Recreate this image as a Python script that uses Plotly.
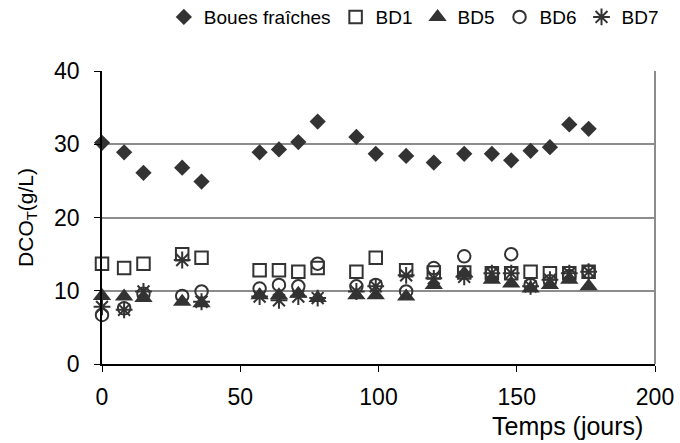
import plotly.graph_objects as go

# Sampling days
temps = [0, 8, 15, 29, 36, 57, 64, 71, 78, 92, 99, 110, 120, 131, 141, 148, 155, 162, 169, 176]

# Total COD (g/L) per sludge series
boues_fraiches = [30.2, 28.9, 26.1, 26.8, 24.9, 28.9, 29.3, 30.3, 33.1, 31.0,
                  28.7, 28.4, 27.5, 28.7, 28.7, 27.8, 29.1, 29.6, 32.7, 32.1]
bd1 = [13.7, 13.1, 13.7, 15.0, 14.5, 12.8, 12.8, 12.6, 13.1, 12.6,
       14.5, 12.8, 12.5, 12.5, 12.4, 12.4, 12.6, 12.4, 12.4, 12.6]
bd5 = [9.3, 9.2, 9.0, 8.5, 8.3, 9.4, 9.4, 9.6, 9.0, 9.4,
       9.4, 9.2, 10.8, 12.4, 11.5, 11.0, 10.3, 10.8, 11.5, 10.6]
bd6 = [6.7, 7.6, 9.6, 9.3, 9.9, 10.3, 10.8, 10.6, 13.7, 10.6,
       10.8, 9.9, 13.1, 14.7, 12.4, 15.0, 10.8, 11.3, 12.0, 12.6]
bd7 = [7.8, 7.4, 9.9, 14.2, 8.5, 9.2, 8.7, 9.2, 9.0, 9.9,
       10.6, 12.1, 11.7, 11.9, 12.4, 12.4, 10.6, 11.5, 12.4, 12.6]

x_ticks = [0, 50, 100, 150, 200]
y_ticks = [0, 10, 20, 30, 40]

INK = "#333333"
FONT = "Liberation Sans, Arial, sans-serif"

series = [
    ("Boues fraîches", boues_fraiches, dict(symbol="diamond", size=12.5, color=INK,
                                            line=dict(width=0))),
    ("BD1", bd1, dict(symbol="square-open", size=12.5, color=INK, line=dict(width=2, color=INK))),
    ("BD5", bd5, dict(symbol="triangle-up", size=16, color=INK, line=dict(width=0))),
    ("BD6", bd6, dict(symbol="circle-open", size=12.5, color=INK, line=dict(width=2, color=INK))),
    ("BD7", bd7, dict(symbol="asterisk-open", size=14, color=INK, line=dict(width=2, color=INK))),
]

fig = go.Figure()
for name, values, marker in series:
    fig.add_trace(go.Scatter(x=temps, y=values, mode="markers", name=name,
                             marker=marker, cliponaxis=False))

fig.update_layout(
    width=680, height=443,
    margin=dict(l=102, r=25, t=71, b=79, autoexpand=False),
    paper_bgcolor="white", plot_bgcolor="white",
    font=dict(family=FONT, color="#000000"),
    showlegend=True,
    legend=dict(orientation="h", x=1.016, xanchor="right", y=1.184, yanchor="middle",
                font=dict(size=19, family=FONT), bgcolor="rgba(0,0,0,0)",
                itemwidth=30, tracegroupgap=0),
    xaxis=dict(range=[0, 200], tickvals=x_ticks, ticks="outside", ticklen=6,
               tickwidth=1, tickcolor="#000000", showline=True, linecolor="#000000",
               linewidth=1.5, showgrid=False, zeroline=False, ticklabelstandoff=6,
               tickfont=dict(size=23, family=FONT), mirror=False),
    yaxis=dict(range=[0, 40], tickvals=y_ticks, ticks="outside", ticklen=6,
               tickwidth=1, tickcolor="#000000", showline=True, linecolor="#000000",
               linewidth=1.5, showgrid=True, gridcolor="#8c8c8c", gridwidth=2,
               zeroline=False, tickfont=dict(size=23, family=FONT), ticklabelstandoff=10,
               title=dict(text="DCO<sub>T</sub>(g/L)", font=dict(size=21, family=FONT),
                          standoff=15)),
    annotations=[dict(text="Temps (jours)", xref="paper", yref="paper",
                      x=0.8425, y=-0.21, xanchor="center", yanchor="middle",
                      showarrow=False, font=dict(size=25, family=FONT))],
    shapes=[dict(type="line", xref="paper", yref="paper", x0=1, x1=1, y0=0, y1=1,
                 line=dict(color="#8c8c8c", width=2))],
)

fig.write_html("out.html")
